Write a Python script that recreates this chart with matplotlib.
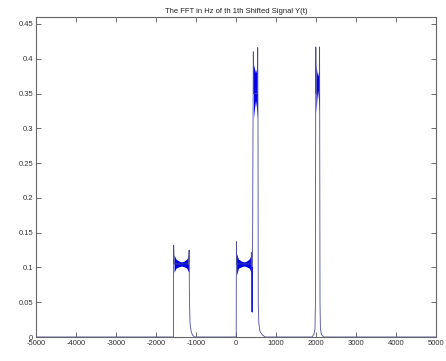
import matplotlib
matplotlib.use("Agg")
import matplotlib.pyplot as plt

# ---- data ----
# outline of the magnitude spectrum (Hz, |Y|)
outline_freq = [-5000, -1565, -1558, -1552, -1545, -1185, -1178, -1172, -1165, -1150, -1120, -1090, -1040,
                0, 5, 10, 18, 378, 385, 392, 405, 412, 425, 433, 440, 535, 543, 550, 556, 570, 600, 660, 730,
                1900, 1950, 1975, 1985, 1995, 2003, 2080, 2090, 2100, 2110, 2135, 2190, 5000]
outline_mag = [0, 0, 0.132, 0.118, 0.105, 0.105, 0.118, 0.125, 0.06, 0.02, 0.008, 0.003, 0,
               0, 0, 0.137, 0.105, 0.105, 0.122, 0.09, 0.036, 0.08, 0.30, 0.410, 0.35, 0.35, 0.416, 0.30, 0.05, 0.02, 0.008, 0.003, 0,
               0, 0.004, 0.012, 0.05, 0.417, 0.35, 0.35, 0.417, 0.05, 0.012, 0.004, 0, 0]

# ripple envelopes (dense oscillation drawn as a filled band)
band1_freq = [-1548, -1500, -1420, -1365, -1300, -1230, -1182]
band1_hi = [0.118, 0.112, 0.109, 0.108, 0.109, 0.112, 0.118]
band1_lo = [0.093, 0.099, 0.101, 0.102, 0.101, 0.099, 0.093]

band2_freq = [15, 60, 140, 200, 260, 330, 380]
band2_hi = [0.120, 0.112, 0.109, 0.108, 0.109, 0.112, 0.118]
band2_lo = [0.089, 0.099, 0.101, 0.102, 0.101, 0.099, 0.093]

peak1_freq = [438, 465, 488, 512, 537]
peak1_hi = [0.392, 0.385, 0.380, 0.385, 0.392]
peak1_lo = [0.315, 0.330, 0.340, 0.330, 0.315]

peak2_freq = [1998, 2020, 2042, 2065, 2087]
peak2_hi = [0.392, 0.382, 0.375, 0.382, 0.392]
peak2_lo = [0.322, 0.340, 0.355, 0.340, 0.322]

dip_freq = [398, 405, 412]
dip_mag = [0.10, 0.036, 0.10]

x_ticks = [-5000, -4000, -3000, -2000, -1000, 0, 1000, 2000, 3000, 4000, 5000]
y_ticks = [0, 0.05, 0.1, 0.15, 0.2, 0.25, 0.3, 0.35, 0.4, 0.45]
y_tick_labels = ["0", "0.05", "0.1", "0.15", "0.2", "0.25", "0.3", "0.35", "0.4", "0.45"]
title = "The FFT in Hz of th 1th Shifted Signal Y(t)"

# ---- figure ----
plt.rcParams['font.family'] = ['Liberation Sans', 'DejaVu Sans']
fig = plt.figure(figsize=(4.46, 3.61), dpi=100)
ax = fig.add_axes([36/446, 24/361, 400/446, (337-17)/361])

fuzz = '#0000e6'
line_c = '#4a4aa0'
for f, hi, lo in [(band1_freq, band1_hi, band1_lo), (band2_freq, band2_hi, band2_lo),
                  (peak1_freq, peak1_hi, peak1_lo), (peak2_freq, peak2_hi, peak2_lo)]:
    ax.fill_between(f, lo, hi, color=fuzz, linewidth=0)
ax.plot(outline_freq, outline_mag, color=line_c, lw=0.6)
ax.plot(dip_freq, dip_mag, color='#1a1ad0', lw=0.8)

ax.set_xlim(-5000, 5000)
ax.set_ylim(0, 0.46)
ax.set_xticks(x_ticks)
ax.set_xticklabels([str(v) for v in x_ticks])
ax.set_yticks(y_ticks)
ax.set_yticklabels(y_tick_labels)
ax.tick_params(direction='in', length=3.5, width=0.6, color='#555555', labelsize=5.5,
               labelcolor='#333333', top=True, right=True, pad=2)
for s in ax.spines.values():
    s.set_color('#666666')
    s.set_linewidth(0.8)
ax.set_title(title, fontsize=5.5, color='#222222', pad=3)

fig.savefig("out.png", dpi=100)
